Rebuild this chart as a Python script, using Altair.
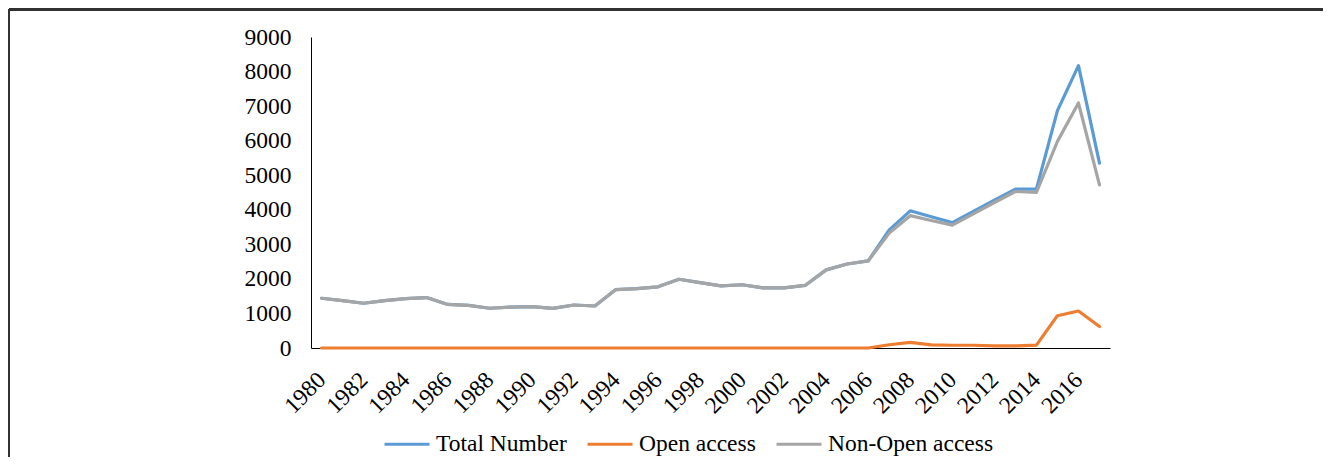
import altair as alt
import pandas as pd

years = list(range(1980, 2018))
total_number = [1440, 1370, 1295, 1370, 1430, 1460, 1260, 1235, 1150, 1185,
                1195, 1145, 1245, 1215, 1690, 1720, 1770, 1990, 1890, 1800,
                1830, 1740, 1740, 1810, 2260, 2430, 2520, 3420, 3970, 3800,
                3630, 3950, 4280, 4600, 4600, 6870, 8170, 5350]
open_access = [0] * 27 + [95, 165, 90, 80, 80, 60, 60, 85, 935, 1070, 620]
non_open_access = [1440, 1370, 1295, 1370, 1430, 1460, 1260, 1235, 1150, 1185,
                   1195, 1145, 1245, 1215, 1690, 1720, 1770, 1990, 1890, 1800,
                   1830, 1740, 1740, 1810, 2260, 2430, 2520, 3325, 3830, 3690,
                   3555, 3880, 4210, 4530, 4500, 5980, 7090, 4720]

series_names = ["Total Number", "Open access", "Non-Open access"]
series_colors = ["#5B9BD5", "#ED7D31", "#A5A5A5"]
x_ticks = list(range(1980, 2017, 2))
y_ticks = list(range(0, 9001, 1000))

rows = []
for name, vals in zip(series_names, [total_number, open_access, non_open_access]):
    for y, v in zip(years, vals):
        rows.append({"year": y, "value": v, "series": name})
df = pd.DataFrame(rows)

FONT = "Liberation Serif"
FS = 23.5

x_enc = alt.X("year:Q", scale=alt.Scale(domain=[1979.5, 2017.5], nice=False, zero=False),
              axis=alt.Axis(values=x_ticks, format="d", labelAngle=-45, labelAlign="right",
                            labelBaseline="middle", labelPadding=28, ticks=False, grid=False,
                            domainColor="black", labelFlush=False, labelOverlap=False,
                            title=None))
y_enc = alt.Y("value:Q", scale=alt.Scale(domain=[0, 9000], nice=False),
              axis=alt.Axis(values=y_ticks, format="d", ticks=False, grid=False,
                            domainColor="black", labelPadding=20, title=None))
color_enc = alt.Color("series:N",
                      scale=alt.Scale(domain=series_names, range=series_colors),
                      sort=series_names,
                      legend=alt.Legend(title=None, orient="none", legendX=72, legendY=383,
                                        direction="horizontal", symbolType="stroke",
                                        symbolSize=2025, symbolStrokeWidth=3,
                                        labelFont=FONT, labelFontSize=FS, labelColor="black",
                                        labelLimit=0, columnPadding=14, labelOffset=5))

layers = []
for name in series_names:
    layers.append(
        alt.Chart(df).transform_filter(alt.datum.series == name)
        .mark_line(strokeWidth=3.2, strokeJoin="round", strokeCap="round")
        .encode(x=x_enc, y=y_enc, color=color_enc)
    )

frame_top = alt.Chart(df).mark_rule(color="#333333", strokeWidth=1.5).encode(
    x=alt.value(-302), x2=alt.value(1012), y=alt.value(-27.5))
frame_left = alt.Chart(df).mark_rule(color="#333333", strokeWidth=1.5).encode(
    x=alt.value(-302), y=alt.value(-27.5), y2=alt.value(420))

chart = alt.layer(frame_top, frame_left, *layers).properties(
    width=799, height=311,
    padding={"left": 303, "top": 29, "right": 213, "bottom": 113},
    autosize=alt.AutoSizeParams(type="none"),
).configure_view(stroke=None).configure_axis(
    labelFont=FONT, labelFontSize=FS, labelColor="black", domainWidth=1
)

chart.save("out.html", embed_options={"renderer": "svg", "actions": False})
